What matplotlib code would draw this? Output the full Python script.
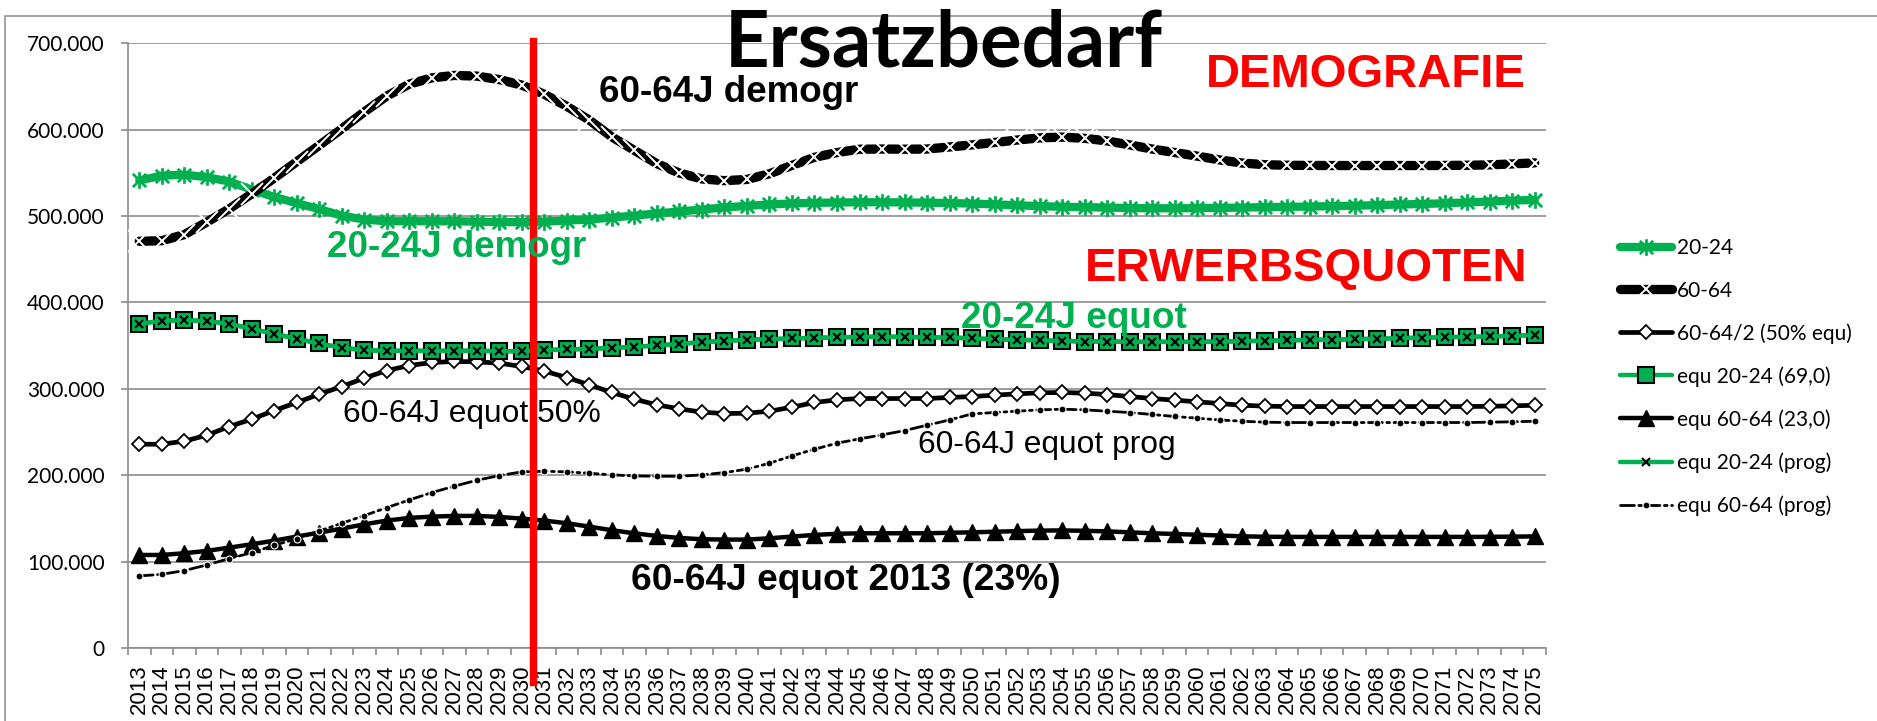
import numpy as np
import matplotlib
matplotlib.use("Agg")
import matplotlib.pyplot as plt
from matplotlib.path import Path
from matplotlib.patches import Rectangle
from matplotlib.ticker import FuncFormatter, FixedLocator

# categories
years = [str(y) for y in range(2013, 2076)]

# values in thousand persons
pop_20_24 = [541.3, 546.7, 548.0, 545.0, 540.0, 530.5, 522.0, 515.0, 508.0, 500.5,
             496.0, 494.0, 494.0, 494.0, 494.0, 493.5, 493.0, 493.0, 493.5, 494.8,
             496.0, 498.3, 500.6, 503.0, 505.3, 507.6, 510.0, 511.8, 513.4, 514.6,
             515.3, 515.7, 516.0, 516.0, 515.8, 515.5, 515.0, 514.5, 513.5, 512.5,
             511.5, 510.8, 510.3, 509.8, 509.3, 509.0, 509.0, 509.2, 509.5, 509.8,
             510.3, 510.7, 511.0, 511.5, 512.0, 512.6, 513.4, 514.0, 514.8, 515.8,
             516.8, 517.8, 518.8]
pop_60_64 = [470.8, 471.5, 478.5, 493.0, 508.4, 525.8, 544.0, 563.0, 582.0, 601.0,
             620.6, 639.0, 652.8, 660.0, 662.8, 662.0, 658.0, 651.6, 641.0, 627.0,
             611.0, 591.6, 576.0, 560.6, 549.8, 543.0, 541.0, 542.4, 549.0, 558.7,
             568.0, 573.5, 577.4, 577.6, 577.4, 577.6, 580.0, 582.4, 585.2, 588.0,
             590.5, 591.4, 590.0, 587.0, 582.4, 577.6, 573.6, 569.4, 565.0, 561.4,
             559.5, 558.8, 558.6, 558.5, 558.5, 558.5, 558.5, 558.5, 558.6, 558.8,
             559.3, 560.4, 561.6]
half_60_64 = [235.9, 235.9, 239.4, 246.3, 256.4, 264.9, 274.9, 284.2, 293.8, 302.7,
              312.4, 321.2, 327.0, 330.5, 331.7, 331.3, 329.7, 325.9, 320.5, 313.1,
              304.6, 295.8, 288.0, 281.5, 276.8, 273.0, 271.4, 271.8, 274.1, 278.8,
              284.2, 287.3, 288.8, 288.8, 288.8, 288.8, 290.0, 291.1, 292.7, 294.2,
              295.4, 295.8, 295.0, 293.4, 291.1, 288.8, 286.9, 285.0, 283.0, 281.0,
              280.0, 279.5, 279.5, 279.5, 279.5, 279.5, 279.5, 279.5, 279.5, 279.5,
              279.8, 280.3, 281.0]
equ_20_24 = [375.3, 378.8, 379.5, 378.4, 375.3, 369.5, 363.7, 357.9, 352.5, 347.5,
             344.8, 344.0, 344.0, 344.0, 344.0, 344.0, 343.6, 343.6, 344.8, 345.6,
             346.3, 347.5, 348.6, 350.2, 352.1, 354.0, 355.6, 356.8, 357.5, 358.3,
             359.0, 359.5, 360.2, 360.2, 360.2, 359.5, 359.5, 358.3, 357.5, 356.8,
             356.0, 355.6, 354.8, 354.8, 354.4, 354.4, 354.4, 354.4, 354.8, 355.2,
             355.6, 356.0, 356.8, 356.8, 357.5, 357.9, 358.7, 359.1, 359.8, 360.2,
             360.6, 361.4, 362.2]
equ_60_64 = [107.7, 107.7, 109.7, 112.4, 116.2, 120.1, 124.3, 129.0, 133.6, 138.2,
             143.2, 147.5, 150.6, 152.1, 152.9, 152.9, 151.7, 149.8, 147.5, 144.4,
             140.5, 136.3, 132.8, 129.7, 127.4, 125.9, 125.5, 125.5, 127.0, 129.0,
             130.9, 132.2, 132.8, 132.8, 132.8, 132.8, 133.4, 133.9, 134.6, 135.3,
             135.9, 136.1, 135.7, 135.0, 133.9, 132.8, 132.0, 131.1, 130.2, 129.3,
             128.8, 128.6, 128.6, 128.6, 128.6, 128.6, 128.6, 128.6, 128.6, 128.6,
             128.7, 128.9, 129.2]
equ_20_24_prog = equ_20_24
equ_60_64_prog = [83.4, 85.3, 89.6, 96.1, 103.5, 110.4, 118.9, 126.6, 135.5, 144.4,
                  153.3, 162.5, 171.4, 179.9, 187.3, 194.2, 199.6, 203.9, 204.6, 203.9,
                  202.3, 200.4, 199.2, 198.8, 198.8, 200.4, 203.1, 207.0, 213.9, 222.4,
                  230.1, 237.1, 242.1, 246.7, 251.7, 257.9, 264.0, 271.0, 272.6, 274.1,
                  275.7, 276.4, 275.7, 274.1, 272.6, 270.3, 268.0, 266.0, 264.0, 262.5,
                  261.4, 261.0, 261.0, 261.0, 261.0, 261.0, 261.0, 261.0, 261.0, 261.0,
                  261.4, 261.8, 262.5]

GREEN = "#00B050"
RED = "#FF0000"
GRAY = "#8C8C8C"
W, H = 1877, 721


def fpos(px, py):
    return px / W, 1 - py / H


# excel style asterisk marker
star = Path([(0, -1), (0, 1), (-0.8, -0.8), (0.8, 0.8), (-0.8, 0.8), (0.8, -0.8)],
            [Path.MOVETO, Path.LINETO] * 3)

fig = plt.figure(figsize=(W / 100, H / 100), dpi=100)
ax = fig.add_axes([128 / W, 1 - 648 / H, (1546 - 128) / W, (648 - 43.3) / H])
x = np.arange(len(years))

styles = [
    dict(label="20-24", color=GREEN, lw=6, marker=star, ms=12, mec=GREEN, mfc="none", mew=2),
    dict(label="60-64", color="black", lw=6.7, marker="x", ms=16, mec="white", mew=1.4),
    dict(label="60-64/2 (50% equ)", color="black", lw=3.4, marker="D", ms=7.5, mfc="white", mec="black", mew=1.3),
    dict(label="equ 20-24 (69,0)", color=GREEN, lw=3.2, marker="s", ms=11, mfc=GREEN, mec="black", mew=1.5),
    dict(label="equ 60-64 (23,0)", color="black", lw=3.2, marker="^", ms=11, mfc="black", mec="black", mew=1),
    dict(label="equ 20-24 (prog)", color=GREEN, lw=3.2, marker="x", ms=5.5, mec="black", mew=1.5),
    dict(label="equ 60-64 (prog)", color="black", lw=2, ls=(0, (5, 1.6, 1, 1.6)), marker="o", ms=5, mfc="black", mec="white", mew=0.8),
]
series = [pop_20_24, pop_60_64, half_60_64, equ_20_24, equ_60_64, equ_20_24_prog, equ_60_64_prog]

handles = []
for vals, st in zip(series, styles):
    ln, = ax.plot(x, vals, solid_capstyle="round", dash_capstyle="round", zorder=3, **st)
    handles.append(ln)

ax.set_xlim(-0.5, len(years) - 0.5)
ax.set_ylim(0, 700)
ax.yaxis.set_major_locator(FixedLocator(np.arange(0, 701, 100)))
ax.yaxis.set_major_formatter(FuncFormatter(lambda v, p: f"{int(round(v * 1000)):,}".replace(",", ".")))
ax.yaxis.grid(True, color=GRAY, lw=1.2)
ax.set_axisbelow(True)
for s in ["top", "right"]:
    ax.spines[s].set_visible(False)
for s in ["left", "bottom"]:
    ax.spines[s].set_color(GRAY)
    ax.spines[s].set_linewidth(1.2)

ax.set_xticks(x)
ax.set_xticklabels(years, rotation=90, fontsize=16, family="Liberation Sans")
ax.set_xticks(np.arange(-0.5, len(years)), minor=True)
ax.tick_params(axis="x", which="major", length=0, pad=12)
ax.tick_params(axis="x", which="minor", length=5, width=1.2, color=GRAY, direction="out")
ax.tick_params(axis="y", length=5.4, width=1.2, color=GRAY, pad=11.5)
for t in ax.get_yticklabels():
    t.set_family("Lato")
    t.set_fontsize(15)

# red marker line between 2030 and 2031
xr = years.index("2031") - 0.5
ax.axvline(xr, ymin=-0.0557, ymax=1.0043, color=RED, lw=5.3, clip_on=False, zorder=6)

# outer chart frame
fx, fy = fpos(5, 16)
fig.add_artist(Rectangle((fx, -1), 2, fy + 1, transform=fig.transFigure,
                         fill=False, ec=GRAY, lw=1.1))


# texts
def label(px, py, s, size, color="black", weight="bold", family="Liberation Sans"):
    fig.text(*fpos(px, py), s, fontsize=size, color=color, weight=weight,
             family=family, ha="left", va="baseline", zorder=7)


label(725, 66.7, "Ersatzbedarf", 56, family="Lato")
label(1206, 86.7, "DEMOGRAFIE", 34, color=RED)
label(1085, 280.7, "ERWERBSQUOTEN", 34, color=RED)
label(599, 101.7, "60-64J demogr", 26.5)
label(327, 256.7, "20-24J demogr", 26.5, color=GREEN)
label(961, 328.3, "20-24J equot", 26.6, color=GREEN)
label(343, 421.7, "60-64J equot 50%", 22.9, weight="normal")
label(918, 453.3, "60-64J equot prog", 22.9, weight="normal")
label(631, 590, "60-64J equot 2013 (23%)", 26.7)

# legend
lx, ly = fpos(1620, 238)
leg = fig.legend(handles, [st["label"] for st in styles], loc="upper left",
                 bbox_to_anchor=(lx, ly), frameon=False, borderpad=0,
                 borderaxespad=0, handlelength=2.5, handletextpad=0.25,
                 labelspacing=1.08, numpoints=1, prop=dict(family="Lato", size=15))

fig.savefig("out.png", dpi=100)
